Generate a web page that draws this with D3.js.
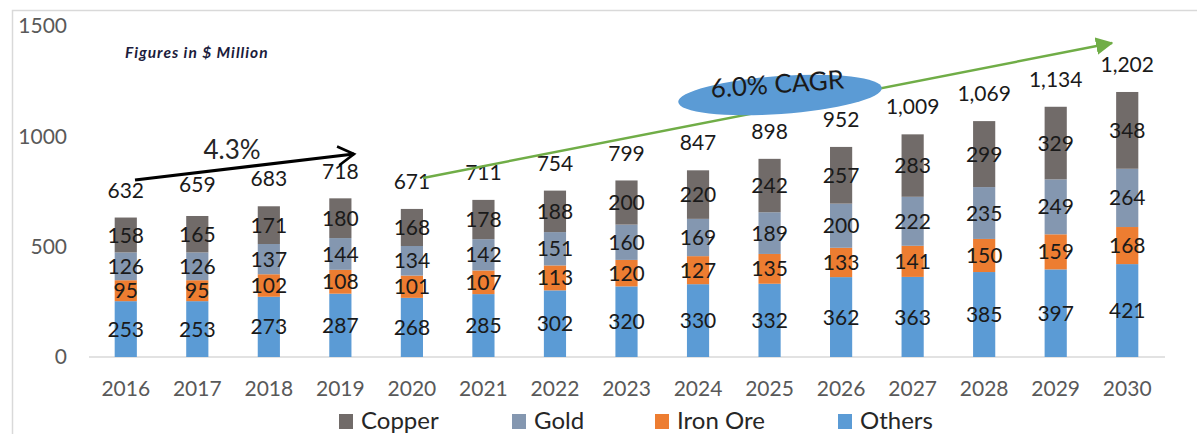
<!DOCTYPE html>
<html>
<head>
<meta charset="utf-8">
<script src="https://cdn.jsdelivr.net/npm/d3@7"></script>
<style>
  body { margin: 0; background: #fff; }
  svg { display: block; font-family: Lato, "Open Sans", sans-serif; }
</style>
</head>
<body>
<div id="art"></div>
<script type="text/javascript">
var years = ["2016","2017","2018","2019","2020","2021","2022","2023","2024","2025","2026","2027","2028","2029","2030"];
var others = [253,253,273,287,268,285,302,320,330,332,362,363,385,397,421];
var ironOre = [95,95,102,108,101,107,113,120,127,135,133,141,150,159,168];
var gold = [126,126,137,144,134,142,151,160,169,189,200,222,235,249,264];
var copper = [158,165,171,180,168,178,188,200,220,242,257,283,299,329,348];
var totals = ["632","659","683","718","671","711","754","799","847","898","952","1,009","1,069","1,134","1,202"];
var totalVals = [632,659,683,718,671,711,754,799,847,898,952,1009,1069,1134,1202];
var yTicks = [0, 500, 1000, 1500];

var seriesNames = ["Others", "Iron Ore", "Gold", "Copper"];
var colors = {"Others": "#5b9bd5", "Iron Ore": "#ed7d31", "Gold": "#8497b0", "Copper": "#716b69"};
var legendOrder = ["Copper", "Gold", "Iron Ore", "Others"];

var w = 1197, h = 434;

var rows = years.map(function(yr, i) {
  return {year: yr, "Others": others[i], "Iron Ore": ironOre[i], "Gold": gold[i], "Copper": copper[i]};
});

var svg = d3.select("#art").append("svg")
    .attr("width", w)
    .attr("height", h);

// frame
svg.append("path")
    .attr("d", "M12.5," + h + "V10.5H" + w)
    .attr("fill", "none")
    .attr("stroke", "#d9d9d9")
    .attr("stroke-width", 1.5);

var x = d3.scaleBand()
    .domain(years)
    .range([90, 1163])
    .paddingInner(0.69)
    .paddingOuter(0.345);

var y = d3.scaleLinear()
    .domain([0, 1500])
    .range([357, 26]);

// y tick labels
svg.append("g").selectAll("text")
    .data(yTicks)
  .enter().append("text")
    .attr("x", 67)
    .attr("y", function(d) { return y(d); })
    .attr("dy", "0.35em")
    .attr("text-anchor", "end")
    .attr("fill", "#595959")
    .style("font-size", "21px")
    .text(function(d) { return d; });

// baseline
svg.append("line")
    .attr("x1", 89).attr("x2", 1165)
    .attr("y1", y(0)).attr("y2", y(0))
    .attr("stroke", "#d9d9d9")
    .attr("stroke-width", 1.5);

var stacked = d3.stack().keys(seriesNames)(rows);

var layer = svg.append("g").selectAll("g")
    .data(stacked)
  .enter().append("g")
    .attr("fill", function(d) { return colors[d.key]; });

layer.selectAll("rect")
    .data(function(d) { return d; })
  .enter().append("rect")
    .attr("x", function(d) { return x(d.data.year); })
    .attr("y", function(d) { return y(d[1]); })
    .attr("width", x.bandwidth())
    .attr("height", function(d) { return y(d[0]) - y(d[1]); });

// segment labels
layer.selectAll("text")
    .data(function(d) { return d.map(function(p) { return {p: p, key: d.key}; }); })
  .enter().append("text")
    .attr("x", function(d) { return x(d.p.data.year) + x.bandwidth() / 2; })
    .attr("y", function(d) { return y((d.p[0] + d.p[1]) / 2); })
    .attr("dy", "0.36em")
    .attr("text-anchor", "middle")
    .attr("fill", "#1a1a1a")
    .style("font-size", "21px")
    .text(function(d) { return d.p.data[d.key]; });

// totals
svg.append("g").selectAll("text")
    .data(years)
  .enter().append("text")
    .attr("x", function(d) { return x(d) + x.bandwidth() / 2; })
    .attr("y", function(d, i) { return y(totalVals[i]) - 20; })
    .attr("text-anchor", "middle")
    .attr("fill", "#1a1a1a")
    .style("font-size", "21px")
    .text(function(d, i) { return totals[i]; });

// year labels
svg.append("g").selectAll("text")
    .data(years)
  .enter().append("text")
    .attr("x", function(d) { return x(d) + x.bandwidth() / 2; })
    .attr("y", 396)
    .attr("text-anchor", "middle")
    .attr("fill", "#595959")
    .style("font-size", "21px")
    .text(function(d) { return d; });

// legend
var legX = [339, 512, 655, 838];
var leg = svg.append("g").selectAll("g")
    .data(legendOrder)
  .enter().append("g")
    .attr("transform", function(d, i) { return "translate(" + legX[i] + ",414)"; });
leg.append("rect")
    .attr("width", 14).attr("height", 15)
    .attr("fill", function(d) { return colors[d]; });
leg.append("text")
    .attr("x", 22)
    .attr("y", 15)
    .attr("fill", "#262626")
    .style("font-size", "24px")
    .text(function(d) { return d; });

// note
svg.append("text")
    .attr("x", 125).attr("y", 58)
    .attr("fill", "#1c1c3c")
    .style("font-size", "15.5px")
    .style("font-weight", "bold")
    .style("font-style", "italic")
    .style("letter-spacing", "1px")
    .text("Figures in $ Million");

// black 4.3% arrow
var defs = svg.append("defs");
defs.append("marker")
    .attr("id", "blackHead")
    .attr("viewBox", "0 0 12 12")
    .attr("refX", 10).attr("refY", 6)
    .attr("markerWidth", 7.5).attr("markerHeight", 7.5)
    .attr("markerUnits", "strokeWidth")
    .attr("orient", "auto")
  .append("path")
    .attr("d", "M1.5,1L10,6L1.5,11")
    .attr("fill", "none")
    .attr("stroke", "#000")
    .attr("stroke-width", 1.4);

defs.append("marker")
    .attr("id", "greenHead")
    .attr("viewBox", "0 0 12 12")
    .attr("refX", 11).attr("refY", 6)
    .attr("markerWidth", 7).attr("markerHeight", 7)
    .attr("markerUnits", "strokeWidth")
    .attr("orient", "auto")
  .append("path")
    .attr("d", "M0,0L12,6L0,12Z")
    .attr("fill", "#70ad47");

svg.append("line")
    .attr("x1", 135).attr("y1", 180)
    .attr("x2", 354).attr("y2", 154)
    .attr("stroke", "#000")
    .attr("stroke-width", 3)
    .attr("marker-end", "url(#blackHead)");

svg.append("text")
    .attr("x", 232).attr("y", 159)
    .attr("text-anchor", "middle")
    .attr("fill", "#262626")
    .style("font-size", "26px")
    .text("4.3%");

// green CAGR arrow
svg.append("line")
    .attr("x1", 423).attr("y1", 178)
    .attr("x2", 1112).attr("y2", 43)
    .attr("stroke", "#70ad47")
    .attr("stroke-width", 2.5)
    .attr("marker-end", "url(#greenHead)");

var cagr = svg.append("g")
    .attr("transform", "translate(780,95) rotate(-4)");
cagr.append("ellipse")
    .attr("rx", 102).attr("ry", 19)
    .attr("fill", "#5b9bd5");
cagr.append("text")
    .attr("x", -2).attr("y", -2)
    .attr("text-anchor", "middle")
    .attr("fill", "#1a1a1a")
    .style("font-size", "26px")
    .text("6.0% CAGR");
</script>
</body>
</html>
